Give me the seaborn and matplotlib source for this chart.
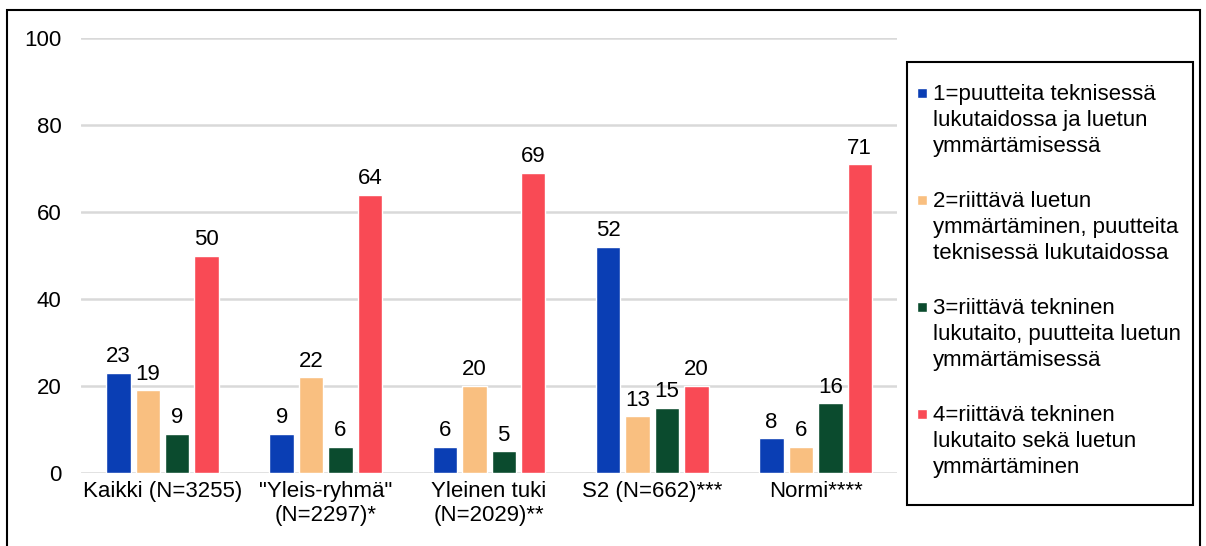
import matplotlib.pyplot as plt
import seaborn as sns
import pandas as pd
from matplotlib.patches import Rectangle
from matplotlib.legend_handler import HandlerPatch

# Data
groups = [
    "Kaikki (N=3255)",
    "\"Yleis-ryhmä\"\n(N=2297)*",
    "Yleinen tuki\n(N=2029)**",
    "S2 (N=662)***",
    "Normi****",
]
levels = [
    "1=puutteita teknisessä\nlukutaidossa ja luetun\nymmärtämisessä",
    "2=riittävä luetun\nymmärtäminen, puutteita\nteknisessä lukutaidossa",
    "3=riittävä tekninen\nlukutaito, puutteita luetun\nymmärtämisessä",
    "4=riittävä tekninen\nlukutaito sekä luetun\nymmärtäminen",
]
taso1 = [23, 9, 6, 52, 8]
taso2 = [19, 22, 20, 13, 6]
taso3 = [9, 6, 5, 15, 16]
taso4 = [50, 64, 69, 20, 71]
colors = ["#0A3EB4", "#F9BF80", "#0B4B2E", "#F94A55"]

# Long format for seaborn
df = pd.concat([
    pd.DataFrame({"ryhma": groups, "osuus": vals, "taso": lvl})
    for lvl, vals in zip(levels, [taso1, taso2, taso3, taso4])
])

sns.set_theme(style="whitegrid")
plt.rcParams["font.family"] = ["Liberation Sans", "DejaVu Sans"]
plt.rcParams["text.color"] = "black"

fig = plt.figure(figsize=(12.06, 5.46), dpi=100)
ax = fig.add_axes([0.067, 0.134, 0.677, 0.796])

sns.barplot(data=df, x="ryhma", y="osuus", hue="taso", hue_order=levels,
            palette=colors, saturation=1, width=0.72, gap=0.17, ax=ax, legend=False)

for cont in ax.containers:
    ax.bar_label(cont, fmt="%.0f", padding=4, fontsize=16, color="black")

ax.set_ylim(0, 100)
ax.set_yticks([0, 20, 40, 60, 80, 100])
ax.set_xlim(-0.5, 4.5)
ax.set_xlabel("")
ax.set_ylabel("")
ax.grid(axis="y", color="#D9D9D9", linewidth=1.8)
ax.grid(axis="x", visible=False)
for s in ax.spines.values():
    s.set_visible(False)
ax.tick_params(axis="both", length=0, labelsize=16, colors="black")
ax.tick_params(axis="y", pad=14)
ax.tick_params(axis="x", pad=6)
ax.set_axisbelow(True)


# Legend square sits at the first line of each wrapped label
def square_top(legend, orig_handle, xdescent, ydescent, width, height, fontsize):
    sq = 0.46 * fontsize
    return Rectangle((-xdescent, -ydescent + 1.3 * fontsize), sq, sq)


handles = [Rectangle((0, 0), 1, 1, facecolor=c) for c in colors]
leg = fig.legend(handles, levels, loc="upper left",
                 bbox_to_anchor=(917 / 1206, 1 - 84 / 546),
                 fontsize=16, frameon=False, labelspacing=1.55,
                 handlelength=0.46, handleheight=0.5, handletextpad=0.27,
                 borderpad=0, borderaxespad=0,
                 handler_map={Rectangle: HandlerPatch(patch_func=square_top)})
for t in leg.get_texts():
    t.set_linespacing(1.3)
    t.set_color("black")

# Legend box
fig.patches.append(Rectangle((907 / 1206, 1 - 505 / 546), 286 / 1206, 443 / 546,
                             transform=fig.transFigure, fill=False,
                             edgecolor="black", linewidth=1.5))

# Outer frame around the whole chart
fig.patches.append(Rectangle((7 / 1206, -0.05), 1193 / 1206, 1 - 10 / 546 + 0.05,
                             transform=fig.transFigure, fill=False,
                             edgecolor="black", linewidth=1.5))

fig.savefig("out.png", dpi=100)
